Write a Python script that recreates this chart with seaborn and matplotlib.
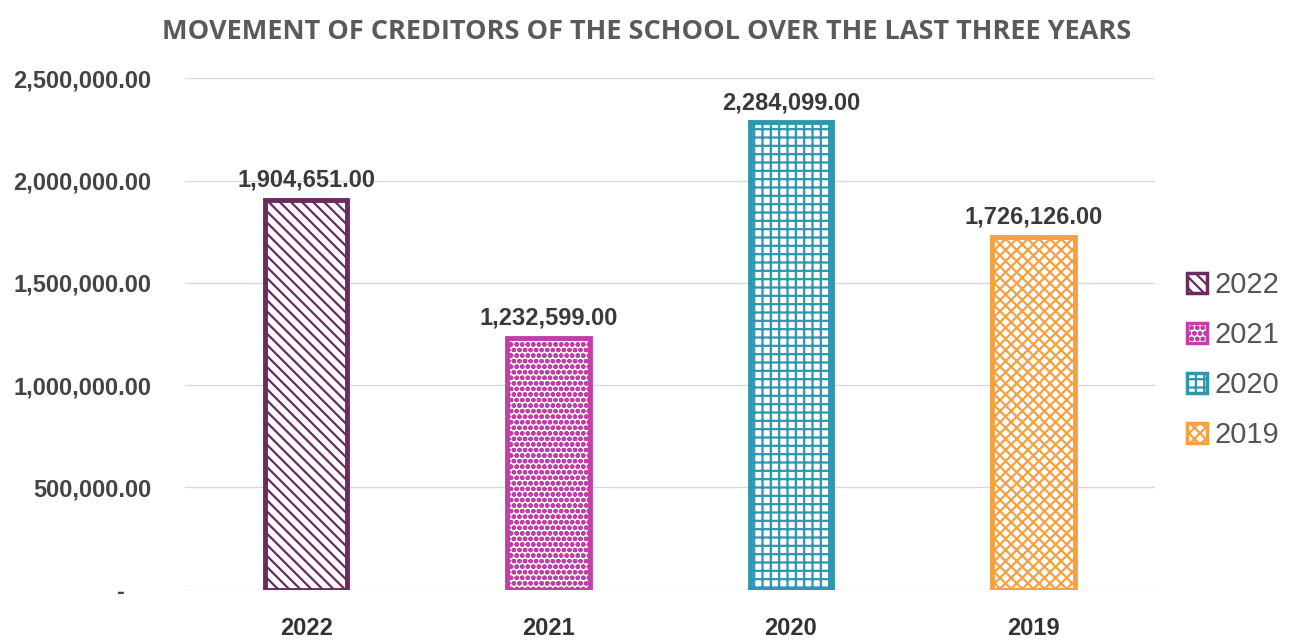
import pandas as pd
import seaborn as sns
import matplotlib.pyplot as plt
from matplotlib.ticker import FuncFormatter
from matplotlib.patches import Patch

# data
years = ["2022", "2021", "2020", "2019"]
creditors = [1904651.00, 1232599.00, 2284099.00, 1726126.00]
colors = ["#6B2A60", "#C23FA8", "#2E96AE", "#F5A041"]
hatches = ["\\\\\\", "ooo", "++", "xxx"]

df = pd.DataFrame({"Year": years, "Amount": creditors})

sns.set_style("white")
plt.rcParams["font.family"] = ["Liberation Sans", "DejaVu Sans"]
plt.rcParams["hatch.linewidth"] = 1.6

fig = plt.figure(figsize=(12.93, 6.41), dpi=100)
ax = fig.add_axes([0.143, 0.08, 0.75, 0.798])

sns.barplot(data=df, x="Year", y="Amount", hue="Year", palette=colors,
            width=0.34, legend=False, ax=ax)

for bar, c, h in zip(ax.patches, colors, hatches):
    bar.set_facecolor("white")
    bar.set_edgecolor(c)
    bar.set_hatch(h)
    bar.set_linewidth(3.5)

# data labels
for i, v in enumerate(creditors):
    ax.text(i, v + 40000, f"{v:,.2f}", ha="center", va="bottom",
            fontsize=17, fontweight="bold", color="#3A3A3A")

ax.set_ylim(0, 2500000)
ax.set_yticks([0, 500000, 1000000, 1500000, 2000000, 2500000])
# accounting style: zero shown as a dash
ax.yaxis.set_major_formatter(FuncFormatter(lambda v, p: "-    " if v == 0 else f"{v:,.2f}"))
ax.grid(axis="y", color="#DAD6E2", linewidth=1)
ax.set_axisbelow(True)
sns.despine(ax=ax, left=True, bottom=True)
ax.tick_params(axis="y", labelsize=17, colors="#444444", pad=24, length=0)
ax.tick_params(axis="x", labelsize=17, colors="#333333", pad=20, length=0)
for lab in ax.get_yticklabels() + ax.get_xticklabels():
    lab.set_fontweight("bold")
ax.set_xlabel("")
ax.set_ylabel("")

fig.text(0.5, 0.95, "MOVEMENT OF CREDITORS OF THE SCHOOL OVER THE LAST THREE YEARS",
         ha="center", va="center", fontsize=19.5, fontweight="bold",
         color="#5A5A5A", family=["Open Sans", "DejaVu Sans"])

handles = [Patch(facecolor="white", edgecolor=c, hatch=h, linewidth=2.5, label=y)
           for c, h, y in zip(colors, hatches, years)]
leg = fig.legend(handles=handles, loc="center left", bbox_to_anchor=(0.918, 0.438),
                 frameon=False, fontsize=21, labelspacing=0.75, handlelength=0.7,
                 handleheight=0.7, handletextpad=0.25, borderpad=0,
                 borderaxespad=0, labelcolor="#555555")

plt.savefig("out.png", dpi=100)
